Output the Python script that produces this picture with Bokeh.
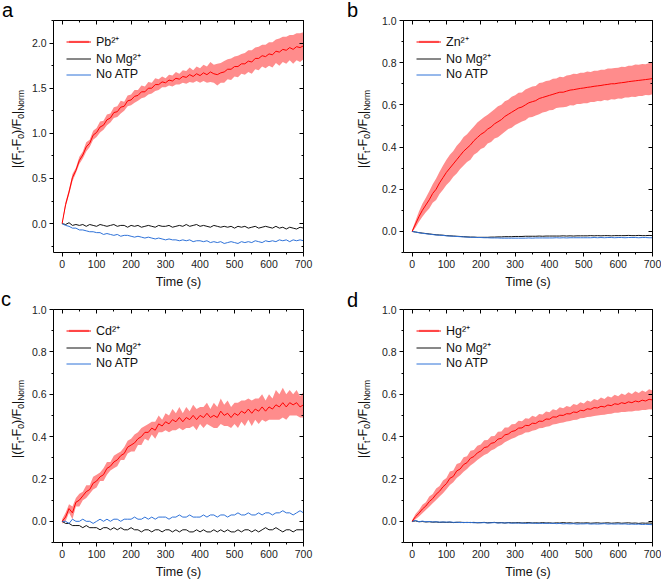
from bokeh.plotting import figure
from bokeh.models import (Range1d, LinearAxis, SingleIntervalTicker, Legend, Div,
                          LegendItem, NumeralTickFormatter, CustomJSTickFormatter)
from bokeh.layouts import column, row
from bokeh.embed import file_html
from bokeh.resources import INLINE

# ---------------- data ----------------
time_s = list(range(0, 701, 10))

pb_mean = [0.00, 0.21, 0.35, 0.51, 0.59, 0.70, 0.76, 0.85, 0.89, 0.98,
           1.01, 1.07, 1.09, 1.15, 1.17, 1.23, 1.24, 1.29, 1.30, 1.36,
           1.37, 1.41, 1.42, 1.46, 1.46, 1.50, 1.50, 1.54, 1.54, 1.57,
           1.56, 1.59, 1.58, 1.61, 1.60, 1.63, 1.62, 1.65, 1.63, 1.66,
           1.64, 1.67, 1.65, 1.68, 1.66, 1.65, 1.67, 1.68, 1.71, 1.71,
           1.74, 1.74, 1.77, 1.77, 1.80, 1.79, 1.83, 1.83, 1.86, 1.85,
           1.88, 1.87, 1.91, 1.90, 1.93, 1.92, 1.95, 1.93, 1.96, 1.95,
           1.97]
pb_sd = [0.01, 0.03, 0.03, 0.04, 0.03, 0.04, 0.04, 0.05, 0.04, 0.05,
         0.05, 0.06, 0.05, 0.06, 0.05, 0.06, 0.06, 0.07, 0.05, 0.06,
         0.06, 0.07, 0.06, 0.07, 0.06, 0.07, 0.06, 0.07, 0.06, 0.06,
         0.05, 0.06, 0.06, 0.07, 0.06, 0.07, 0.07, 0.08, 0.07, 0.08,
         0.08, 0.09, 0.09, 0.11, 0.10, 0.12, 0.11, 0.12, 0.11, 0.12,
         0.11, 0.12, 0.11, 0.12, 0.12, 0.13, 0.12, 0.13, 0.12, 0.13,
         0.13, 0.14, 0.13, 0.15, 0.14, 0.15, 0.14, 0.16, 0.15, 0.16,
         0.15]
pb_nomg = [0.00, -0.01, 0.01, -0.02, -0.01, -0.02, -0.01, -0.03, -0.01, -0.02,
           -0.03, -0.01, -0.02, -0.03, -0.02, -0.01, -0.03, -0.02, -0.02, -0.04,
           -0.02, -0.03, -0.02, -0.04, -0.03, -0.02, -0.03, -0.04, -0.02, -0.03,
           -0.03, -0.02, -0.04, -0.03, -0.02, -0.03, -0.01, -0.03, -0.02, -0.01,
           -0.03, -0.02, -0.03, -0.04, -0.02, -0.03, -0.04, -0.03, -0.04, -0.03,
           -0.05, -0.03, -0.04, -0.03, -0.05, -0.04, -0.03, -0.05, -0.04, -0.03,
           -0.04, -0.05, -0.03, -0.05, -0.04, -0.06, -0.04, -0.05, -0.06, -0.04,
           -0.05]
pb_noatp = [0.00, -0.02, -0.03, -0.05, -0.05, -0.07, -0.07, -0.08, -0.09, -0.09,
            -0.10, -0.10, -0.12, -0.11, -0.12, -0.13, -0.12, -0.14, -0.13, -0.13,
            -0.14, -0.15, -0.14, -0.15, -0.16, -0.15, -0.16, -0.17, -0.16, -0.17,
            -0.18, -0.17, -0.18, -0.18, -0.19, -0.18, -0.19, -0.18, -0.20, -0.19,
            -0.19, -0.20, -0.19, -0.21, -0.20, -0.21, -0.20, -0.22, -0.21, -0.20,
            -0.21, -0.22, -0.20, -0.21, -0.20, -0.21, -0.19, -0.20, -0.21, -0.19,
            -0.20, -0.19, -0.20, -0.18, -0.19, -0.18, -0.20, -0.18, -0.19, -0.18,
            -0.19]

zn_mean = [0.000, 0.035, 0.070, 0.100, 0.125, 0.150, 0.180, 0.200, 0.230, 0.255,
           0.280, 0.300, 0.320, 0.340, 0.360, 0.380, 0.395, 0.410, 0.430, 0.445,
           0.460, 0.470, 0.485, 0.495, 0.510, 0.520, 0.530, 0.545, 0.555, 0.565,
           0.575, 0.585, 0.590, 0.600, 0.610, 0.615, 0.620, 0.630, 0.635, 0.640,
           0.645, 0.650, 0.655, 0.660, 0.660, 0.665, 0.670, 0.672, 0.675, 0.678,
           0.680, 0.683, 0.685, 0.688, 0.690, 0.692, 0.695, 0.697, 0.700, 0.700,
           0.703, 0.705, 0.707, 0.710, 0.712, 0.714, 0.716, 0.718, 0.720, 0.722,
           0.725]
zn_sd = [0.005, 0.016, 0.024, 0.031, 0.034, 0.041, 0.044, 0.051, 0.053, 0.058,
         0.060, 0.063, 0.061, 0.066, 0.064, 0.068, 0.066, 0.070, 0.067, 0.071,
         0.069, 0.072, 0.068, 0.071, 0.069, 0.073, 0.070, 0.072, 0.069, 0.073,
         0.070, 0.072, 0.069, 0.073, 0.070, 0.072, 0.070, 0.074, 0.071, 0.073,
         0.071, 0.074, 0.070, 0.073, 0.071, 0.074, 0.072, 0.075, 0.071, 0.074,
         0.072, 0.075, 0.071, 0.074, 0.072, 0.075, 0.072, 0.076, 0.073, 0.075,
         0.073, 0.076, 0.072, 0.075, 0.073, 0.077, 0.074, 0.076, 0.073, 0.077,
         0.075]
zn_nomg = [0.000, -0.003, -0.006, -0.008, -0.010, -0.012, -0.014, -0.016, -0.017, -0.018,
           -0.020, -0.021, -0.022, -0.023, -0.024, -0.025, -0.026, -0.027, -0.027, -0.028,
           -0.028, -0.028, -0.028, -0.027, -0.027, -0.026, -0.026, -0.025, -0.025, -0.025,
           -0.024, -0.024, -0.024, -0.023, -0.023, -0.023, -0.023, -0.022, -0.023, -0.022,
           -0.022, -0.022, -0.022, -0.022, -0.021, -0.022, -0.021, -0.022, -0.021, -0.021,
           -0.021, -0.021, -0.020, -0.021, -0.020, -0.021, -0.020, -0.020, -0.021, -0.020,
           -0.020, -0.020, -0.020, -0.019, -0.020, -0.020, -0.019, -0.020, -0.020, -0.019,
           -0.020]
zn_noatp = [0.000, -0.003, -0.006, -0.009, -0.011, -0.013, -0.015, -0.017, -0.018, -0.019,
            -0.021, -0.022, -0.023, -0.024, -0.025, -0.026, -0.027, -0.028, -0.028, -0.029,
            -0.029, -0.030, -0.030, -0.031, -0.031, -0.031, -0.032, -0.032, -0.032, -0.032,
            -0.032, -0.032, -0.032, -0.032, -0.031, -0.032, -0.031, -0.031, -0.031, -0.031,
            -0.031, -0.031, -0.030, -0.031, -0.030, -0.031, -0.030, -0.030, -0.030, -0.030,
            -0.030, -0.030, -0.030, -0.029, -0.030, -0.029, -0.030, -0.029, -0.029, -0.030,
            -0.029, -0.029, -0.030, -0.029, -0.029, -0.029, -0.030, -0.029, -0.029, -0.030,
            -0.030]

cd_mean = [0.00, 0.02, 0.06, 0.04, 0.09, 0.10, 0.12, 0.14, 0.15, 0.18,
           0.19, 0.21, 0.22, 0.25, 0.26, 0.28, 0.29, 0.31, 0.32, 0.35,
           0.36, 0.37, 0.39, 0.40, 0.42, 0.42, 0.44, 0.43, 0.46, 0.45,
           0.47, 0.46, 0.48, 0.47, 0.49, 0.47, 0.49, 0.48, 0.50, 0.48,
           0.50, 0.49, 0.51, 0.49, 0.50, 0.49, 0.52, 0.50, 0.51, 0.49,
           0.51, 0.50, 0.52, 0.51, 0.53, 0.51, 0.53, 0.52, 0.54, 0.52,
           0.54, 0.53, 0.55, 0.54, 0.56, 0.54, 0.56, 0.55, 0.56, 0.54,
           0.55]
cd_sd = [0.01, 0.02, 0.02, 0.03, 0.02, 0.03, 0.02, 0.03, 0.02, 0.03,
         0.03, 0.02, 0.03, 0.03, 0.02, 0.03, 0.03, 0.02, 0.03, 0.03,
         0.03, 0.04, 0.03, 0.04, 0.03, 0.04, 0.03, 0.04, 0.04, 0.03,
         0.04, 0.04, 0.05, 0.04, 0.05, 0.04, 0.05, 0.04, 0.05, 0.05,
         0.04, 0.05, 0.05, 0.04, 0.06, 0.05, 0.06, 0.05, 0.06, 0.05,
         0.05, 0.06, 0.05, 0.06, 0.05, 0.06, 0.05, 0.06, 0.06, 0.05,
         0.06, 0.05, 0.07, 0.06, 0.07, 0.06, 0.06, 0.05, 0.06, 0.05,
         0.06]
cd_nomg = [0.00, -0.01, -0.01, -0.02, -0.02, -0.02, -0.03, -0.02, -0.03, -0.03,
           -0.03, -0.04, -0.03, -0.03, -0.04, -0.03, -0.04, -0.03, -0.04, -0.04,
           -0.03, -0.04, -0.04, -0.05, -0.04, -0.04, -0.05, -0.04, -0.04, -0.05,
           -0.04, -0.04, -0.05, -0.04, -0.05, -0.04, -0.04, -0.05, -0.05, -0.04,
           -0.05, -0.04, -0.05, -0.05, -0.04, -0.05, -0.04, -0.05, -0.04, -0.05,
           -0.05, -0.04, -0.05, -0.04, -0.04, -0.05, -0.04, -0.05, -0.04, -0.03,
           -0.04, -0.04, -0.03, -0.04, -0.05, -0.04, -0.04, -0.05, -0.04, -0.04,
           -0.04]
cd_noatp = [0.00, 0.00, -0.01, 0.01, 0.00, 0.00, 0.01, 0.00, 0.00, -0.01,
            0.00, 0.01, 0.00, 0.01, 0.00, 0.01, 0.01, 0.00, 0.01, 0.01,
            0.01, 0.02, 0.01, 0.01, 0.02, 0.01, 0.02, 0.01, 0.02, 0.02,
            0.02, 0.01, 0.02, 0.02, 0.03, 0.02, 0.02, 0.03, 0.02, 0.02,
            0.02, 0.03, 0.02, 0.03, 0.03, 0.02, 0.03, 0.03, 0.02, 0.03,
            0.03, 0.04, 0.03, 0.03, 0.04, 0.03, 0.03, 0.04, 0.03, 0.04,
            0.04, 0.03, 0.04, 0.04, 0.05, 0.04, 0.04, 0.03, 0.04, 0.05,
            0.04]

hg_mean = [0.000, 0.022, 0.038, 0.058, 0.072, 0.093, 0.107, 0.128, 0.142, 0.163,
           0.178, 0.203, 0.212, 0.238, 0.247, 0.268, 0.277, 0.298, 0.306, 0.323,
           0.332, 0.348, 0.352, 0.368, 0.372, 0.388, 0.392, 0.408, 0.412, 0.424,
           0.428, 0.440, 0.441, 0.453, 0.452, 0.463, 0.462, 0.473, 0.472, 0.483,
           0.482, 0.493, 0.492, 0.501, 0.500, 0.508, 0.507, 0.516, 0.514, 0.524,
           0.522, 0.531, 0.529, 0.537, 0.535, 0.543, 0.540, 0.549, 0.546, 0.555,
           0.552, 0.560, 0.556, 0.564, 0.560, 0.568, 0.564, 0.572, 0.568, 0.576,
           0.573]
hg_sd = [0.005, 0.012, 0.015, 0.020, 0.018, 0.024, 0.022, 0.027, 0.025, 0.030,
         0.027, 0.032, 0.028, 0.033, 0.029, 0.034, 0.030, 0.035, 0.031, 0.034,
         0.031, 0.035, 0.032, 0.034, 0.031, 0.035, 0.032, 0.035, 0.031, 0.034,
         0.032, 0.035, 0.031, 0.034, 0.032, 0.035, 0.031, 0.034, 0.032, 0.036,
         0.033, 0.036, 0.032, 0.037, 0.034, 0.037, 0.033, 0.038, 0.035, 0.038,
         0.034, 0.039, 0.035, 0.040, 0.036, 0.041, 0.037, 0.042, 0.038, 0.043,
         0.039, 0.044, 0.040, 0.045, 0.041, 0.046, 0.042, 0.046, 0.043, 0.047,
         0.045]
hg_nomg = [0.000, 0.002, -0.002, -0.001, -0.003, -0.002, -0.004, -0.003, -0.005, -0.004,
           -0.005, -0.004, -0.006, -0.005, -0.004, -0.006, -0.005, -0.006, -0.005, -0.007,
           -0.006, -0.005, -0.007, -0.006, -0.005, -0.007, -0.006, -0.008, -0.006, -0.007,
           -0.007, -0.006, -0.008, -0.007, -0.006, -0.008, -0.007, -0.008, -0.006, -0.008,
           -0.007, -0.009, -0.007, -0.008, -0.006, -0.008, -0.007, -0.009, -0.007, -0.008,
           -0.008, -0.007, -0.009, -0.008, -0.007, -0.009, -0.008, -0.007, -0.009, -0.008,
           -0.007, -0.009, -0.008, -0.007, -0.009, -0.008, -0.010, -0.008, -0.009, -0.008,
           -0.009]
hg_noatp = [0.000, 0.004, -0.002, 0.001, -0.002, -0.001, -0.003, -0.002, -0.004, -0.003,
            -0.004, -0.003, -0.005, -0.004, -0.006, -0.005, -0.006, -0.005, -0.007, -0.006,
            -0.007, -0.006, -0.008, -0.007, -0.006, -0.008, -0.007, -0.008, -0.007, -0.009,
            -0.008, -0.009, -0.008, -0.010, -0.009, -0.008, -0.010, -0.009, -0.010, -0.009,
            -0.010, -0.009, -0.011, -0.010, -0.012, -0.011, -0.012, -0.011, -0.013, -0.012,
            -0.012, -0.011, -0.013, -0.012, -0.013, -0.012, -0.011, -0.013, -0.012, -0.013,
            -0.012, -0.013, -0.012, -0.014, -0.013, -0.014, -0.013, -0.015, -0.014, -0.015,
            -0.016]

panel_letters = ["a", "b", "c", "d"]
ion_labels = ["Pb²⁺", "Zn²⁺", "Cd²⁺", "Hg²⁺"]
control_labels = ["No Mg²⁺", "No ATP"]
x_axis_title = "Time (s)"
y_axis_pieces = ["|(F", "t", "-F", "0", ")/F", "0", "|", "Norm"]
y_axis_is_sub = [False, True, False, True, False, True, False, True]

# ---------------- styling ----------------
FONT = "Liberation Sans"
RED = "#ff0000"
BLACK = "#111111"
BLUE = "#2f72d8"


def make_gutter(letter, width, height, letter_px, ylab_px):
    """HTML strip left of a panel: panel letter and the rotated y-axis title."""
    parts = []
    for txt, sub in zip(y_axis_pieces, y_axis_is_sub):
        if sub:
            parts.append(f'<span style="font-size:8.5px;position:relative;top:3px;">{txt}</span>')
        else:
            parts.append(txt)
    ylab = "".join(parts)
    html = (
        f'<div style="position:relative;width:{width}px;height:{height}px;'
        f"font-family:'{FONT}';color:#111111;overflow:visible;\">"
        f'<div style="position:absolute;left:{letter_px[0]}px;top:{letter_px[1]}px;'
        f'font-size:20px;line-height:20px;color:#000000;">{letter}</div>'
        f'<div style="position:absolute;left:{ylab_px[0] - 7.5}px;top:{ylab_px[1]}px;'
        f'font-size:12.5px;line-height:15px;white-space:nowrap;'
        f'transform-origin:0 0;transform:rotate(-90deg);">{ylab}</div>'
        f'</div>'
    )
    return Div(text=html, width=width, height=height, margin=0)


def mirror_axis(ticker):
    return LinearAxis(ticker=ticker,
                      formatter=CustomJSTickFormatter(code="return ''"),
                      major_tick_in=4, major_tick_out=0,
                      minor_tick_in=2, minor_tick_out=0,
                      major_label_standoff=0,
                      axis_line_color="black", major_tick_line_color="black",
                      minor_tick_line_color="black")


def make_panel(mean, sd, nomg, noatp, ion, yrange, ystep,
               width, height, bl, br, bt, bb):
    p = figure(width=width, height=height, x_range=Range1d(-25, 700),
               y_range=Range1d(*yrange), output_backend="svg",
               toolbar_location=None, min_border_left=bl, min_border_right=br,
               min_border_top=bt, min_border_bottom=bb)
    p.grid.visible = False
    p.outline_line_color = None
    p.background_fill_color = "white"
    p.border_fill_color = "white"

    lower = [m - s for m, s in zip(mean, sd)]
    upper = [m + s for m, s in zip(mean, sd)]
    band = p.varea(x=time_s, y1=lower, y2=upper, fill_color=RED, fill_alpha=0.45)
    l_nomg = p.line(time_s, nomg, line_color=BLACK, line_width=1)
    l_noatp = p.line(time_s, noatp, line_color=BLUE, line_width=1)
    l_ion = p.line(time_s, mean, line_color=RED, line_width=1)

    xa = p.xaxis[0]
    xa.ticker = SingleIntervalTicker(interval=100, num_minor_ticks=2)
    ya = p.yaxis[0]
    ya.ticker = SingleIntervalTicker(interval=ystep, num_minor_ticks=2)
    ya.formatter = NumeralTickFormatter(format="0.0")
    for ax in (xa, ya):
        ax.axis_line_color = "black"
        ax.major_tick_line_color = "black"
        ax.minor_tick_line_color = "black"
        ax.major_tick_in = 0
        ax.major_tick_out = 4
        ax.minor_tick_in = 0
        ax.minor_tick_out = 2
        ax.major_label_text_font = FONT
        ax.major_label_text_font_size = "10.5px"
        ax.major_label_text_color = "#222222"
        ax.major_label_standoff = 3
    xa.axis_label = x_axis_title
    xa.axis_label_text_font = FONT
    xa.axis_label_text_font_size = "12.5px"
    xa.axis_label_text_font_style = "normal"
    xa.axis_label_text_color = "#111111"
    xa.axis_label_standoff = 4

    p.add_layout(mirror_axis(SingleIntervalTicker(interval=100, num_minor_ticks=2)), "above")
    p.add_layout(mirror_axis(SingleIntervalTicker(interval=ystep, num_minor_ticks=2)), "right")

    legend = Legend(items=[LegendItem(label=ion, renderers=[band, l_ion]),
                           LegendItem(label=control_labels[0], renderers=[l_nomg]),
                           LegendItem(label=control_labels[1], renderers=[l_noatp])],
                    location="top_left", border_line_color=None,
                    background_fill_alpha=0, label_text_font=FONT,
                    label_text_font_size="12.5px", label_text_color="#111111",
                    glyph_width=25, glyph_height=3, label_height=12,
                    label_standoff=5, spacing=0, padding=4, margin=13)
    p.add_layout(legend)
    return p


# gutter anchors: letter (left, top), y-label (centre x, bottom y) in gutter pixels
ga = make_gutter(panel_letters[0], 28, 291, (2, 0), (17, 168))
pa = make_panel(pb_mean, pb_sd, pb_nomg, pb_noatp, ion_labels[0],
                (-0.32, 2.25), 0.5, 302, 291, 25, 27, 20, 36)
gb = make_gutter(panel_letters[1], 48, 291, (17, 0), (33, 168))
pb = make_panel(zn_mean, zn_sd, zn_nomg, zn_noatp, ion_labels[1],
                (-0.1, 1.0), 0.2, 283, 291, 25, 9, 19, 39)
gc = make_gutter(panel_letters[2], 28, 290, (1, -2), (17, 167))
pc = make_panel(cd_mean, cd_sd, cd_nomg, cd_noatp, ion_labels[2],
                (-0.1, 1.0), 0.2, 302, 290, 25, 27, 18, 39)
gd = make_gutter(panel_letters[3], 48, 290, (17, -1), (33, 167))
pd = make_panel(hg_mean, hg_sd, hg_nomg, hg_noatp, ion_labels[3],
                (-0.1, 1.0), 0.2, 283, 290, 25, 9, 18, 38)

layout = column(row(ga, pa, gb, pb), row(gc, pc, gd, pd))
open("out.html", "w").write(file_html(layout, INLINE))
